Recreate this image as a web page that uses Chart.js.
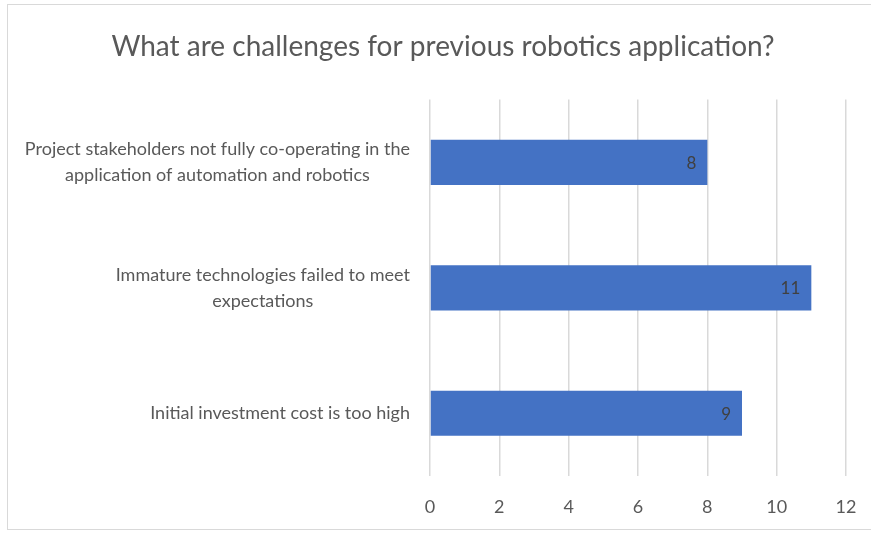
<!DOCTYPE html>
<html>
<head>
<meta charset="utf-8">
<script src="https://cdn.jsdelivr.net/npm/chart.js@4/dist/chart.umd.min.js"></script>
<style>
  html, body { margin: 0; padding: 0; background: #fff; }
  #frame {
    position: absolute; left: 7px; top: 4px; width: 864px; height: 526px;
    border: 1px solid #d9d9d9; border-right: none; box-sizing: border-box;
  }
  #wrap { position: absolute; left: 0; top: 0; width: 863px; height: 524px; }
</style>
</head>
<body>
<div id="frame"><div id="wrap"><canvas id="chart"></canvas></div></div>
<script>
const categories = [
  ["Project stakeholders not fully co-operating in the", "application of automation and robotics"],
  ["Immature technologies failed to meet", "expectations"],
  ["Initial investment cost is too high"]
];
const responses = [8, 11, 9];
const xTicks = [0, 2, 4, 6, 8, 10, 12];

(function () {
  const barBlue = "#4472c4";
  const textGray = "#595959";
  const fontFamily = "Lato, 'Open Sans', sans-serif";

  Chart.defaults.font.family = fontFamily;
  Chart.defaults.color = textGray;

  // value labels drawn inside the end of each bar
  const valueLabels = {
    id: "valueLabels",
    afterDatasetsDraw(chart) {
      const ctx = chart.ctx;
      const meta = chart.getDatasetMeta(0);
      ctx.save();
      ctx.font = "17px " + fontFamily;
      ctx.fillStyle = "#404040";
      ctx.textAlign = "right";
      ctx.textBaseline = "middle";
      meta.data.forEach((bar, i) => {
        ctx.fillText(String(responses[i]), bar.x - 11, bar.y + 1);
      });
      ctx.restore();
    },
  };

  // category labels: each block right-aligned, its lines centred (Excel style)
  const categoryLabels = {
    id: "categoryLabels",
    afterDraw(chart) {
      const ctx = chart.ctx;
      const scale = chart.scales.y;
      const lineH = 26;
      ctx.save();
      ctx.font = "18px " + fontFamily;
      ctx.fillStyle = textGray;
      ctx.textAlign = "center";
      ctx.textBaseline = "middle";
      categories.forEach((lines, i) => {
        const yc = scale.getPixelForTick(i);
        const widest = Math.max(...lines.map((l) => ctx.measureText(l).width));
        const cx = scale.right - 20 - widest / 2;
        const y0 = yc - ((lines.length - 1) * lineH) / 2;
        lines.forEach((l, j) => ctx.fillText(l, cx, y0 + j * lineH));
      });
      ctx.restore();
    },
  };

  new Chart(document.getElementById("chart"), {
    type: "bar",
    data: {
      labels: categories,
      datasets: [
        {
          label: "Responses",
          data: responses,
          backgroundColor: barBlue,
          borderWidth: 0,
          categoryPercentage: 1,
          barPercentage: 0.36,
        },
      ],
    },
    options: {
      indexAxis: "y",
      responsive: true,
      maintainAspectRatio: false,
      animation: false,
      layout: { padding: { left: 32, right: 25, top: 0, bottom: 0 } },
      plugins: {
        legend: { display: false },
        tooltip: { enabled: false },
        title: {
          display: true,
          text: "What are challenges for previous robotics application?",
          color: textGray,
          font: { size: 28, weight: "normal", lineHeight: 1.2 },
          padding: { top: 25, bottom: 36 },
        },
      },
      scales: {
        x: {
          min: xTicks[0],
          max: xTicks[xTicks.length - 1],
          afterBuildTicks(scale) {
            scale.ticks = xTicks.map((v) => ({ value: v }));
          },
          afterFit(scale) {
            scale.height = 53;
            scale.paddingLeft = 0;
            scale.paddingRight = 0;
          },
          grid: { color: "#d9d9d9", lineWidth: 1.5, drawTicks: false },
          border: { display: false },
          ticks: { padding: 20, font: { size: 18 }, color: textGray },
        },
        y: {
          afterFit(scale) { scale.width = 390; },
          grid: { display: false, drawTicks: false },
          border: { display: false },
          ticks: { display: false },
        },
      },
    },
    plugins: [valueLabels, categoryLabels],
  });
})();
</script>
</body>
</html>
